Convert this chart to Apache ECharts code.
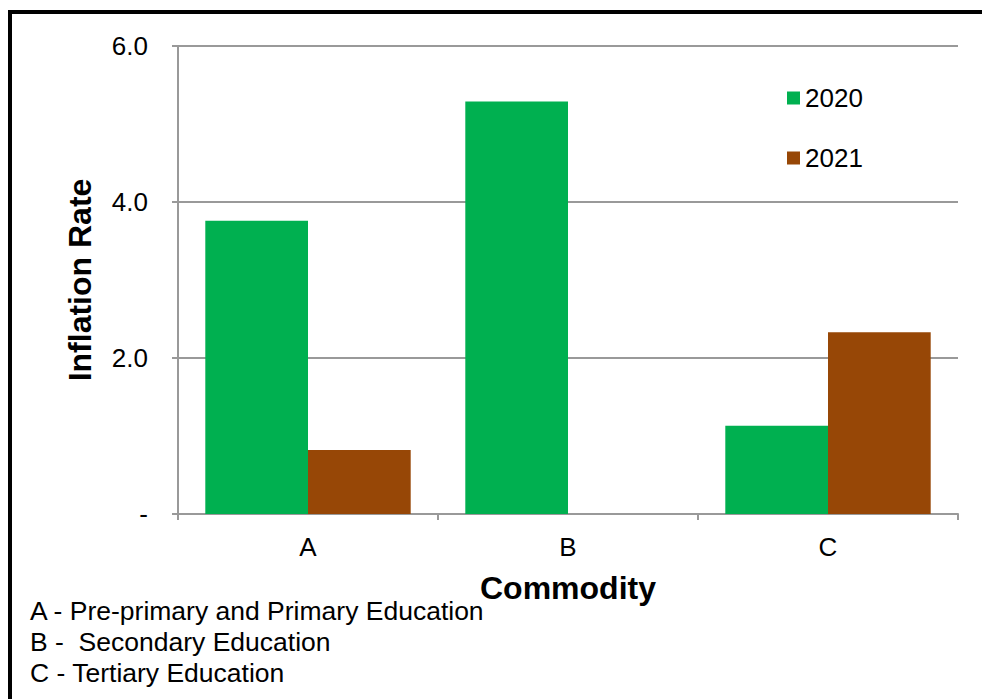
<!DOCTYPE html>
<html>
<head>
<meta charset="utf-8">
<script src="https://cdn.jsdelivr.net/npm/echarts@6/dist/echarts.min.js"></script>
<style>
html,body{margin:0;padding:0;background:#fff;}
#chart{width:982px;height:699px;}
</style>
</head>
<body>
<div id="chart"></div>
<script>
const categories = ['A', 'B', 'C'];
const values2020 = [3.76, 5.29, 1.13];
const values2021 = [0.82, 0, 2.33];
const seriesNames = ['2020', '2021'];
const footnotes = ['A - Pre-primary and Primary Education', 'B -  Secondary Education', 'C - Tertiary Education'];

const chart = echarts.init(document.getElementById('chart'), null, {renderer: 'svg'});
const font = 'Arial, "Liberation Sans", sans-serif';
chart.setOption({
  animation: false,
  backgroundColor: '#fff',
  textStyle: {fontFamily: font},
  grid: {left: 178, right: 24, top: 46, bottom: 185, containLabel: false},
  legend: {
    orient: 'vertical', left: 787, top: 85, padding: 0,
    itemWidth: 13, itemHeight: 13, itemGap: 34,
    icon: 'rect',
    textStyle: {fontSize: 26, color: '#000', fontFamily: font, lineHeight: 24},
    data: seriesNames
  },
  xAxis: {
    type: 'category', data: categories,
    name: 'Commodity', nameLocation: 'middle', nameGap: 58,
    nameTextStyle: {fontSize: 32, fontWeight: 'bold', color: '#000', fontFamily: font},
    axisLine: {lineStyle: {color: '#999', width: 2}},
    axisTick: {show: true, length: 6, lineStyle: {color: '#999', width: 2}},
    axisLabel: {fontSize: 26, color: '#000', margin: 20, fontFamily: font}
  },
  yAxis: {
    type: 'value', min: 0, max: 6, interval: 2,
    name: 'Inflation Rate', nameLocation: 'middle', nameGap: 82,
    nameTextStyle: {fontSize: 32, fontWeight: 'bold', color: '#000', fontFamily: font},
    axisLine: {show: true, lineStyle: {color: '#999', width: 2}},
    axisTick: {show: true, length: 6, lineStyle: {color: '#999', width: 2}},
    axisLabel: {fontSize: 26, color: '#000', margin: 30, fontFamily: font,
      formatter: v => v === 0 ? '-' : v.toFixed(1)},
    splitLine: {lineStyle: {color: '#999', width: 2}}
  },
  series: [
    {name: seriesNames[0], type: 'bar', data: values2020, barGap: 0, barCategoryGap: '21%',
     itemStyle: {color: '#00B050'}},
    {name: seriesNames[1], type: 'bar', data: values2021, barGap: 0, barCategoryGap: '21%',
     itemStyle: {color: '#974706'}}
  ],
  graphic: [
    {type: 'rect', shape: {x: 8, y: 10, width: 974, height: 4}, style: {fill: '#000'}},
    {type: 'rect', shape: {x: 8, y: 10, width: 4, height: 689}, style: {fill: '#000'}},
    ...footnotes.map((t, i) => ({
      type: 'text', left: 30, top: 597 + i * 31,
      style: {text: t, fontSize: 26.5, fill: '#000', fontFamily: font}
    }))
  ]
});
</script>
</body>
</html>
